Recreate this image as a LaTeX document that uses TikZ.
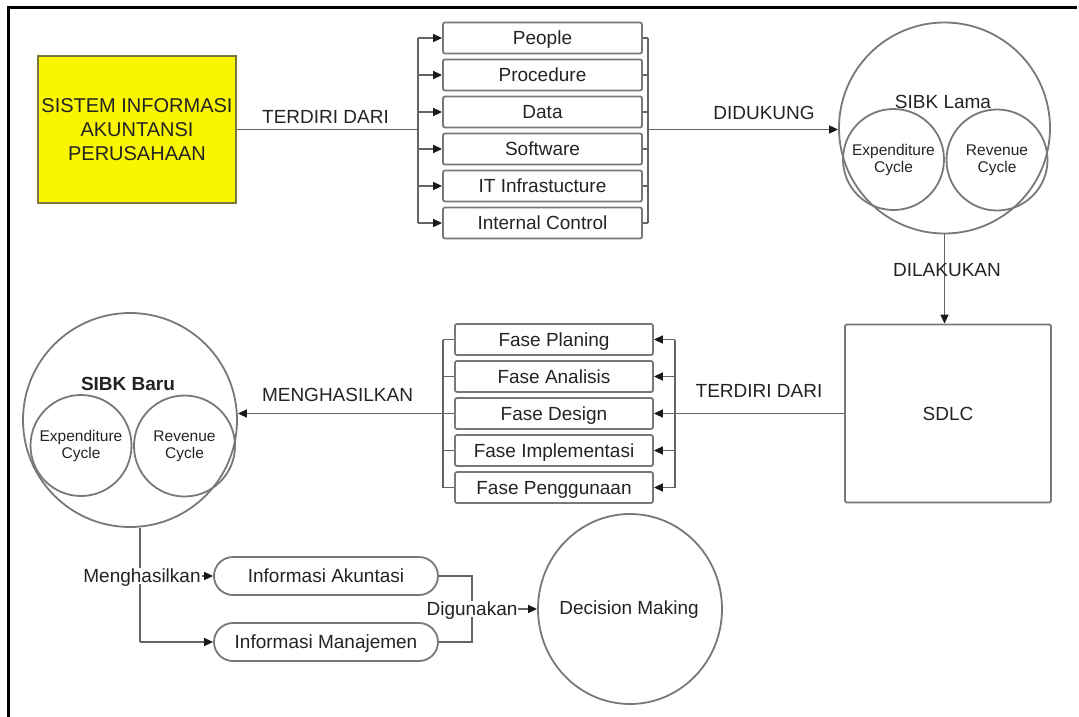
\documentclass[tikz,border=0pt]{standalone}
\usepackage{fontspec}
\setmainfont{Liberation Sans}
\usetikzlibrary{arrows.meta,shapes.geometric}
\definecolor{ln}{RGB}{100,100,100}
\definecolor{bd}{RGB}{120,120,120}
\definecolor{tx}{RGB}{35,35,35}
\definecolor{yl}{RGB}{250,246,0}
\definecolor{ybd}{RGB}{120,120,60}
\begin{document}
\begin{tikzpicture}[x=1pt,y=-1pt,
  conn/.style={draw=ln,line width=1.6pt},
  arr/.style={conn,-{Triangle[length=9pt,width=8pt,color=black!90]}},
  lbl/.style={text=tx,font=\fontsize{19}{22}\selectfont,inner sep=1pt,text height=13.6pt,text depth=0pt},
  item/.style={draw=bd,line width=1.8pt,rounded corners=2pt,minimum width=199pt,minimum height=31pt,inner sep=0pt,text=tx,font=\fontsize{19}{22}\selectfont,text height=13.6pt,text depth=0pt},
  phase/.style={item,minimum width=198pt},
  pill/.style={item,minimum width=224pt,minimum height=38pt,rounded corners=19pt},
  bigc/.style={circle,draw=bd,line width=1.8pt,inner sep=0pt},
  innerc/.style={circle,draw=bd,line width=1.8pt,inner sep=0pt,minimum size=101pt,align=center,text=tx,font=\fontsize{15.5}{17}\selectfont},
  sqbox/.style={draw=bd,line width=1.8pt,rounded corners=2pt,inner sep=0pt,text=tx,font=\fontsize{19}{22}\selectfont}
]
\useasboundingbox (0,0) rectangle (1079,717);

% frame
\draw[line width=3pt,black] (8.5,717) -- (8.5,7.5) -- (1077,7.5);

% yellow box
\node[fill=yl,draw=ybd,line width=1.5pt,minimum width=198pt,minimum height=147pt,inner sep=0pt,align=center,text=tx,font=\fontsize{20}{24}\selectfont] (sia) at (137,129.5) {SISTEM INFORMASI\\AKUNTANSI\\PERUSAHAAN};

% component list
\node[item] (p1) at (542.5,38) {People};
\node[item] (p2) at (542.5,75) {Procedure};
\node[item] (p3) at (542.5,112) {Data};
\node[item] (p4) at (542.5,149) {Software};
\node[item] (p5) at (542.5,186) {IT Infrastucture};
\node[item] (p6) at (542.5,223) {Internal Control};

% SIBK Lama
\node[bigc,minimum size=211pt] (lama) at (944.5,128) {};
\node[lbl] (lamat) at (943,102) {SIBK Lama};
\node[innerc] (le) at (893.5,159.5) {Expenditure\\Cycle};
\node[innerc] (re) at (997,160) {Revenue\\Cycle};

\coordinate (bl) at (418,129.5);
\coordinate (br) at (648,129.5);
\draw[conn] (sia.east) -- (bl);
\draw[conn] (bl |- p1.west) -- (bl |- p6.west);
\foreach \n in {p1,p2,p3,p4,p5,p6} \draw[arr] (bl |- \n.west) -- (\n.west);
\draw[conn] (br |- p1.east) -- (br |- p6.east);
\foreach \n in {p1,p2,p3,p4,p5,p6} \draw[conn] (\n.east) -- (br |- \n.east);
\draw[arr] (br) -- (br -| lama.west);
\node[lbl] (l1) at (325.5,117) {TERDIRI DARI};
\node[lbl] (l2) at (764,113) {DIDUKUNG};

% SDLC
\node[sqbox,minimum width=206pt,minimum height=178pt] (sdlc) at (948,413.5) {SDLC};
\draw[arr] (lama.south) -- (lama.south |- sdlc.north);
\node[lbl] (l3) at (947,270) {DILAKUKAN};

% phases
\node[phase] (f1) at (554,339.5) {Fase Planing};
\node[phase] (f2) at (554,376.5) {Fase Analisis};
\node[phase] (f3) at (554,413.5) {Fase Design};
\node[phase] (f4) at (554,450.5) {Fase Implementasi};
\node[phase] (f5) at (554,487.5) {Fase Penggunaan};

% SIBK Baru
\node[bigc,minimum size=214pt] (baru) at (130,420) {};
\node[lbl,font=\fontsize{19}{22}\selectfont\bfseries] (barut) at (128,384) {SIBK Baru};
\node[innerc] (be) at (81,445.5) {Expenditure\\Cycle};
\node[innerc] (bre) at (184.5,446) {Revenue\\Cycle};

\coordinate (pr) at (675,413.5);
\coordinate (pl) at (443,413.5);
\draw[conn] (sdlc.west) -- (pr);
\draw[conn] (pr |- f1.east) -- (pr |- f5.east);
\foreach \n in {f1,f2,f3,f4,f5} \draw[arr] (pr |- \n.east) -- (\n.east);
\draw[conn] (pl |- f1.west) -- (pl |- f5.west);
\foreach \n in {f1,f2,f3,f4,f5} \draw[conn] (\n.west) -- (pl |- \n.west);
\draw[arr] (pl) -- (pl -| baru.east);
\node[lbl] (l4) at (759,391) {TERDIRI DARI};
\node[lbl] (l5) at (337.5,395) {MENGHASILKAN};

% information
\node[pill] (ia) at (326,576) {Informasi Akuntasi};
\node[pill] (im) at (326,642) {Informasi Manajemen};
\node[ellipse,draw=bd,line width=1.8pt,minimum width=184pt,minimum height=190pt,inner sep=0pt] (dm) at (630,609) {};
\node[lbl] (dmt) at (629,608) {Decision Making};

\coordinate (mh) at (140,576);
\draw[conn] (baru.south -| mh) -- (mh |- im.west);
\draw[arr] (mh) -- (ia.west);
\draw[arr] (mh |- im.west) -- (im.west);
\node[lbl,fill=white] (l6) at ([xshift=2pt]mh) {Menghasilkan};

\coordinate (dg) at (472,609);
\draw[conn] (ia.east) -- (dg |- ia.east) -- (dg |- im.east) -- (im.east);
\draw[arr] (dg) -- (dm.west);
\node[lbl,fill=white] (l7) at (dg) {Digunakan};
\end{tikzpicture}
\end{document}
